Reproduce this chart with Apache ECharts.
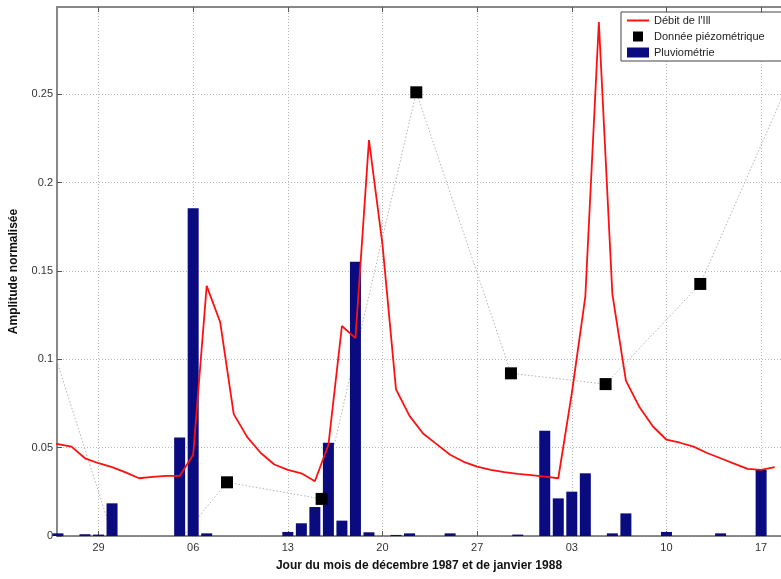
<!DOCTYPE html>
<html><head><meta charset="utf-8">
<script src="https://cdn.jsdelivr.net/npm/echarts@6/dist/echarts.min.js"></script>
<style>html,body{margin:0;padding:0;background:#fff}#c{width:781px;height:579px}</style>
</head><body><div id="c"></div>
<script>
// ---- data ----
const startDate = '1987-11-25'; // first day of the daily series
const debitIll = [
  0.053, 0.052, 0.0506, 0.044, 0.0412, 0.039,                       // Nov 25-30
  0.036, 0.0327, 0.0335, 0.034, 0.034, 0.046, 0.1416, 0.121, 0.069, 0.056, // Dec 1-10
  0.047, 0.0405, 0.0374, 0.0355, 0.031, 0.0515, 0.1189, 0.112, 0.2242, 0.165, // Dec 11-20
  0.083, 0.068, 0.058, 0.052, 0.046, 0.042, 0.0393, 0.0375, 0.0362, 0.0352, 0.0345, // Dec 21-31
  0.0336, 0.0327, 0.0808, 0.1355, 0.291, 0.137, 0.088, 0.073, 0.062, 0.0545, // Jan 1-10
  0.0528, 0.0506, 0.047, 0.044, 0.041, 0.038, 0.0374, 0.039            // Jan 11-18
];
const pluviometrie = [
  0, 0.0015, 0, 0.001, 0.0008, 0.0185,                              // Nov 25-30
  0, 0, 0, 0, 0.0557, 0.1856, 0.0015, 0, 0, 0,                      // Dec 1-10
  0, 0, 0.0023, 0.0072, 0.0164, 0.0528, 0.0087, 0.1553, 0.0021, 0,  // Dec 11-20
  0.0006, 0.0015, 0, 0, 0.0015, 0, 0, 0, 0, 0.0008, 0,              // Dec 21-31
  0.0596, 0.0213, 0.0251, 0.0355, 0, 0.0015, 0.0128, 0, 0, 0.0023,  // Jan 1-10
  0, 0, 0, 0.0015, 0, 0, 0.0374, 0                                  // Jan 11-18
];
const piezoDates = ['1987-11-24T12','1987-12-01T12','1987-12-08T12','1987-12-15T12',
  '1987-12-22T12','1987-12-29T12','1988-01-05T12','1988-01-12T12','1988-01-19T12'];
const piezoValues = [0.133, -0.035, 0.0304, 0.021, 0.2512, 0.0921, 0.086, 0.1427, 0.265];
const tickDates = ['1987-11-29','1987-12-06','1987-12-13','1987-12-20','1987-12-27','1988-01-03','1988-01-10','1988-01-17'];
const tickLabels = ['29','06','13','20','27','03','10','17'];
const seriesNames = ["Débit de l'Ill", 'Donnée piézométrique', 'Pluviométrie'];

// ---- helpers ----
const ORIGIN = Date.UTC(1987, 10, 29);
function dayOf(s) {
  const parts = s.split('T');
  const ymd = parts[0].split('-').map(Number);
  const h = parts[1] ? Number(parts[1]) : 0;
  return (Date.UTC(ymd[0], ymd[1] - 1, ymd[2], h) - ORIGIN) / 864e5;
}
const x0 = dayOf(startDate);
const debitData = debitIll.map((v, i) => [x0 + i, v]);
const pluvioData = pluviometrie.map((v, i) => [x0 + i, v]);
const piezoData = piezoDates.map((d, i) => [dayOf(d), piezoValues[i]]);
const tickVals = tickDates.map(dayOf);

const FONT = "'Liberation Sans', Arial, sans-serif";
const XMIN = -3.07, XMAX = 50.47;
const gridLine = { show: true, lineStyle: { color: '#b8b8b8', type: [1, 2], width: 1 } };

const chart = echarts.init(document.getElementById('c'));
chart.setOption({
  animation: false,
  backgroundColor: '#fff',
  textStyle: { fontFamily: FONT },
  grid: { left: 52, right: 0, top: 7, bottom: 43 },
  legend: {
    orient: 'vertical', left: 621, top: 12,
    itemWidth: 22, itemHeight: 10, itemGap: 5,
    padding: [3, 30, 3, 6],
    backgroundColor: '#fff', borderColor: '#444', borderWidth: 1,
    textStyle: { fontFamily: FONT, fontSize: 11, color: '#222' },
    data: [
      { name: seriesNames[0], icon: 'path://M0,0L22,0L22,2L0,2Z', itemStyle: { color: '#ff1010' } },
      { name: seriesNames[1], icon: 'path://M0,0L10,0L10,10L0,10Z', itemStyle: { color: '#000' } },
      { name: seriesNames[2], icon: 'rect' }
    ]
  },
  xAxis: [{
    type: 'value', min: XMIN, max: XMAX,
    name: 'Jour du mois de décembre 1987 et de janvier 1988',
    nameLocation: 'middle', nameGap: 24,
    nameTextStyle: { fontFamily: FONT, fontSize: 12, fontWeight: 'bold', color: '#111' },
    axisLine: { show: true, onZero: false, lineStyle: { color: '#666', width: 1.5 } },
    axisTick: { show: true, inside: true, length: 5, customValues: tickVals, lineStyle: { color: '#555' } },
    axisLabel: {
      show: true, customValues: tickVals, margin: 6, fontSize: 11, color: '#333', fontFamily: FONT,
      formatter: function (v) {
        const i = tickVals.findIndex(t => Math.abs(t - v) < 1e-6);
        return i >= 0 ? tickLabels[i] : '';
      }
    },
    splitLine: gridLine
  }, {
    type: 'value', min: XMIN, max: XMAX, position: 'top',
    axisLine: { show: true, onZero: false, lineStyle: { color: '#888', width: 2 } },
    axisTick: { show: true, inside: true, length: 5, customValues: tickVals, lineStyle: { color: '#555' } },
    axisLabel: { show: false },
    splitLine: { show: false }
  }],
  yAxis: {
    type: 'value', min: 0, max: 0.2995, interval: 0.05,
    name: 'Amplitude normalisée',
    nameLocation: 'middle', nameGap: 37, nameRotate: 90,
    nameTextStyle: { fontFamily: FONT, fontSize: 12, fontWeight: 'bold', color: '#111' },
    axisLine: { show: true, onZero: false, lineStyle: { color: '#888', width: 2 } },
    axisTick: { show: true, inside: true, length: 5, lineStyle: { color: '#555' } },
    axisLabel: { showMaxLabel: false, margin: 4, fontSize: 11, color: '#333', fontFamily: FONT },
    splitLine: gridLine
  },
  series: [
    {
      name: seriesNames[1], type: 'line', data: piezoData, clip: true,
      showSymbol: false, symbol: 'none',
      lineStyle: { color: '#b4b4b4', width: 1, type: [1.5, 2] },
      itemStyle: { color: '#000' }, z: 1
    },
    {
      name: seriesNames[2], type: 'bar', data: pluvioData, barWidth: 11, clip: true,
      itemStyle: { color: '#0b0b80', borderWidth: 0 }, z: 2
    },
    {
      name: seriesNames[0], type: 'line', data: debitData, clip: true,
      showSymbol: false, symbol: 'none',
      lineStyle: { color: '#ff1010', width: 1.8 },
      itemStyle: { color: '#ff1010' }, z: 3
    },
    {
      name: seriesNames[1], type: 'scatter', data: piezoData, clip: true,
      symbol: 'rect', symbolSize: 12,
      itemStyle: { color: '#000', opacity: 1 }, z: 4
    }
  ]
});
</script>
</body></html>
